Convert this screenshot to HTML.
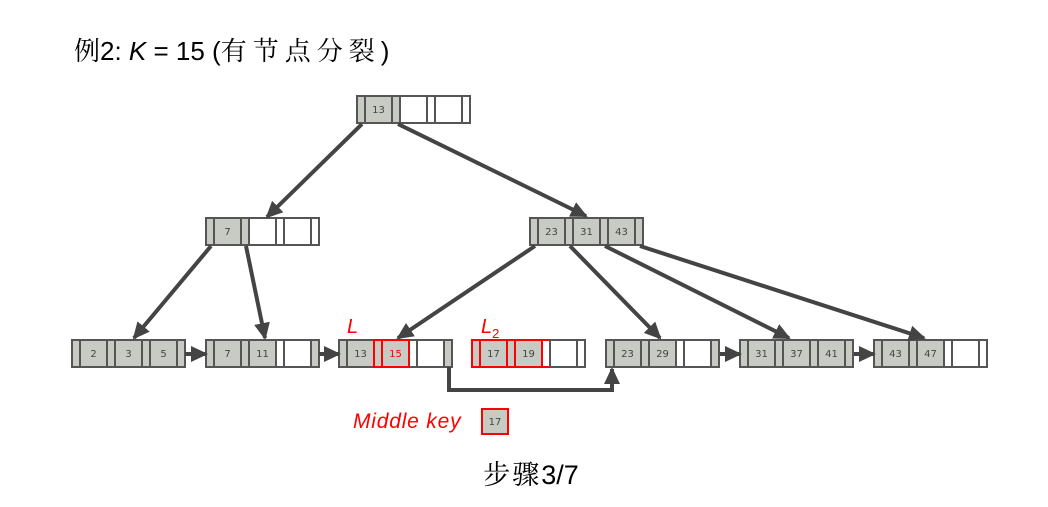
<!DOCTYPE html>
<html><head><meta charset="utf-8"><style>
html,body{margin:0;padding:0;background:#fff;}
svg{display:block}
.k{font-family:"DejaVu Sans","Liberation Sans",sans-serif;font-size:10px;fill:#444;text-anchor:middle}
.g{fill:#c8cbc3}.w{fill:#fff}
rect{stroke:#555;stroke-width:2}
.r rect{stroke:#f00}
</style></head><body>
<svg width="1048" height="507" viewBox="0 0 1048 507" xmlns="http://www.w3.org/2000/svg">
<defs><marker id="a" markerWidth="17" markerHeight="16" refX="15" refY="8" orient="auto" markerUnits="userSpaceOnUse" viewBox="0 0 17 16"><path d="M0,0 L17,8 L0,16 z" fill="#444"/></marker></defs>
<text x="74" y="60" font-family="'Liberation Sans','Noto Serif CJK SC',sans-serif" font-size="26" fill="#000">例2: <tspan font-style="italic">K</tspan> = 15 (<tspan font-family="'Noto Serif CJK SC',serif" letter-spacing="6">有节点分裂</tspan>)</text>

<!-- Root -->
<g transform="translate(357,96)"><rect class="g" x="0" y="0" width="8" height="27"/><rect class="g" x="8" y="0" width="27" height="27"/><rect class="g" x="35" y="0" width="8" height="27"/><rect class="w" x="43" y="0" width="27" height="27"/><rect class="w" x="70" y="0" width="8" height="27"/><rect class="w" x="78" y="0" width="27" height="27"/><rect class="w" x="105" y="0" width="8" height="27"/><text class="k" x="21.5" y="17">13</text></g>
<!-- L2 left -->
<g transform="translate(206,218)"><rect class="g" x="0" y="0" width="8" height="27"/><rect class="g" x="8" y="0" width="27" height="27"/><rect class="g" x="35" y="0" width="8" height="27"/><rect class="w" x="43" y="0" width="27" height="27"/><rect class="w" x="70" y="0" width="8" height="27"/><rect class="w" x="78" y="0" width="27" height="27"/><rect class="w" x="105" y="0" width="8" height="27"/><text class="k" x="21.5" y="17">7</text></g>
<!-- L2 right -->
<g transform="translate(530,218)"><rect class="g" x="0" y="0" width="8" height="27"/><rect class="g" x="8" y="0" width="27" height="27"/><rect class="g" x="35" y="0" width="8" height="27"/><rect class="g" x="43" y="0" width="27" height="27"/><rect class="g" x="70" y="0" width="8" height="27"/><rect class="g" x="78" y="0" width="27" height="27"/><rect class="g" x="105" y="0" width="8" height="27"/><text class="k" x="21.5" y="17">23</text><text class="k" x="56.5" y="17">31</text><text class="k" x="91.5" y="17">43</text></g>
<!-- leaves -->
<g transform="translate(72,340)"><rect class="g" x="0" y="0" width="8" height="27"/><rect class="g" x="8" y="0" width="27" height="27"/><rect class="g" x="35" y="0" width="8" height="27"/><rect class="g" x="43" y="0" width="27" height="27"/><rect class="g" x="70" y="0" width="8" height="27"/><rect class="g" x="78" y="0" width="27" height="27"/><rect class="g" x="105" y="0" width="8" height="27"/><text class="k" x="21.5" y="17">2</text><text class="k" x="56.5" y="17">3</text><text class="k" x="91.5" y="17">5</text></g>
<g transform="translate(206,340)"><rect class="g" x="0" y="0" width="8" height="27"/><rect class="g" x="8" y="0" width="27" height="27"/><rect class="g" x="35" y="0" width="8" height="27"/><rect class="g" x="43" y="0" width="27" height="27"/><rect class="w" x="70" y="0" width="8" height="27"/><rect class="w" x="78" y="0" width="27" height="27"/><rect class="g" x="105" y="0" width="8" height="27"/><text class="k" x="21.5" y="17">7</text><text class="k" x="56.5" y="17">11</text></g>
<g transform="translate(339,340)"><rect class="g" x="0" y="0" width="8" height="27"/><rect class="g" x="8" y="0" width="27" height="27"/><rect class="w" x="70" y="0" width="8" height="27"/><rect class="w" x="78" y="0" width="27" height="27"/><rect class="g" x="105" y="0" width="8" height="27"/><g class="r"><rect class="g" x="35" y="0" width="8" height="27"/><rect class="g" x="43" y="0" width="27" height="27"/></g><text class="k" x="21.5" y="17">13</text><text class="k" x="56.5" y="17" style="fill:#f00">15</text></g>
<g class="r" transform="translate(472,340)"><rect class="g" x="0" y="0" width="8" height="27"/><rect class="g" x="8" y="0" width="27" height="27"/><rect class="g" x="35" y="0" width="8" height="27"/><rect class="g" x="43" y="0" width="27" height="27"/><rect class="w" x="70" y="0" width="8" height="27"/><rect class="w" x="78" y="0" width="27" height="27" style="stroke:#555"/><rect class="w" x="105" y="0" width="8" height="27" style="stroke:#555"/><text class="k" x="21.5" y="17">17</text><text class="k" x="56.5" y="17">19</text></g>
<g transform="translate(606,340)"><rect class="g" x="0" y="0" width="8" height="27"/><rect class="g" x="8" y="0" width="27" height="27"/><rect class="g" x="35" y="0" width="8" height="27"/><rect class="g" x="43" y="0" width="27" height="27"/><rect class="w" x="70" y="0" width="8" height="27"/><rect class="w" x="78" y="0" width="27" height="27"/><rect class="g" x="105" y="0" width="8" height="27"/><text class="k" x="21.5" y="17">23</text><text class="k" x="56.5" y="17">29</text></g>
<g transform="translate(740,340)"><rect class="g" x="0" y="0" width="8" height="27"/><rect class="g" x="8" y="0" width="27" height="27"/><rect class="g" x="35" y="0" width="8" height="27"/><rect class="g" x="43" y="0" width="27" height="27"/><rect class="g" x="70" y="0" width="8" height="27"/><rect class="g" x="78" y="0" width="27" height="27"/><rect class="g" x="105" y="0" width="8" height="27"/><text class="k" x="21.5" y="17">31</text><text class="k" x="56.5" y="17">37</text><text class="k" x="91.5" y="17">41</text></g>
<g transform="translate(874,340)"><rect class="g" x="0" y="0" width="8" height="27"/><rect class="g" x="8" y="0" width="27" height="27"/><rect class="g" x="35" y="0" width="8" height="27"/><rect class="g" x="43" y="0" width="27" height="27"/><rect class="w" x="70" y="0" width="8" height="27"/><rect class="w" x="78" y="0" width="27" height="27"/><rect class="w" x="105" y="0" width="8" height="27"/><text class="k" x="21.5" y="17">43</text><text class="k" x="56.5" y="17">47</text></g>

<!-- arrows -->
<g stroke="#444" stroke-width="4" fill="none" marker-end="url(#a)">
<line x1="362" y1="124" x2="267" y2="217"/>
<line x1="398" y1="124" x2="586" y2="216"/>
<line x1="211" y1="246" x2="134" y2="338"/>
<line x1="246" y1="246" x2="265" y2="338"/>
<line x1="535" y1="246" x2="398" y2="338"/>
<line x1="570" y1="246" x2="660" y2="338"/>
<line x1="605" y1="246" x2="789" y2="338"/>
<line x1="640" y1="246" x2="924" y2="338"/>
<line x1="185" y1="354" x2="206" y2="354"/>
<line x1="319" y1="354" x2="339" y2="354"/>
<line x1="720" y1="354" x2="740" y2="354"/>
<line x1="854" y1="354" x2="874" y2="354"/>
<path d="M449,367 V390 H612 V369"/>
</g>

<text x="347" y="333" font-family="'Liberation Sans',sans-serif" font-style="italic" font-size="20" fill="#f00">L</text>
<text x="481" y="333" font-family="'Liberation Sans',sans-serif" font-style="italic" font-size="20" fill="#f00">L<tspan font-size="13" dy="5" font-style="normal">2</tspan></text>
<text x="353" y="428" font-family="'Liberation Sans',sans-serif" font-style="italic" font-size="21" letter-spacing="0.8" fill="#f00">Middle key</text>
<g class="r"><rect class="g" x="482" y="409" width="26" height="25"/></g>
<text class="k" x="495" y="425">17</text>
<text x="531" y="484" text-anchor="middle" font-family="'Liberation Sans','Noto Serif CJK SC',serif" font-size="27" fill="#000"><tspan font-family="'Noto Serif CJK SC',serif" letter-spacing="2">步骤</tspan>3/7</text>
</svg>
</body></html>
